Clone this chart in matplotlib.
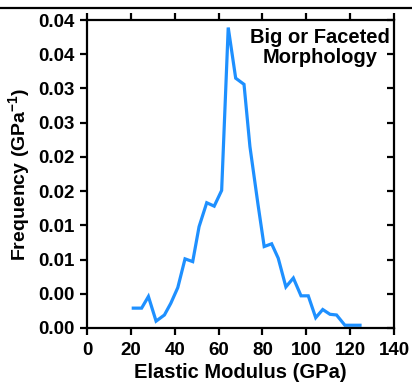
import matplotlib
matplotlib.use("Agg")
import matplotlib.pyplot as plt
from matplotlib.lines import Line2D

plt.rcParams['font.family'] = ['Liberation Sans', 'DejaVu Sans']
plt.rcParams['font.weight'] = 'bold'
plt.rcParams['mathtext.fontset'] = 'custom'
plt.rcParams['mathtext.rm'] = 'Liberation Sans:bold'
plt.rcParams['mathtext.bf'] = 'Liberation Sans:bold'

# Histogram of elastic modulus (bin centres, GPa) and frequency (1/GPa)
modulus = [21.1, 24.9, 28.0, 31.5, 35.3, 38.2, 41.4, 44.7, 48.2, 51.1,
           54.6, 58.0, 61.4, 64.4, 67.8, 71.6, 74.3, 78.0, 80.8, 84.2,
           87.2, 90.7, 94.1, 97.6, 100.9, 104.3, 107.5, 110.8, 113.8,
           117.6, 121.0, 124.5]
frequency = [0.0029, 0.0029, 0.0046, 0.0010, 0.0019, 0.0036, 0.0059, 0.0101,
             0.0097, 0.0148, 0.0183, 0.0178, 0.0201, 0.0439, 0.0365, 0.0356,
             0.0265, 0.0180, 0.0119, 0.0123, 0.0102, 0.0060, 0.0073, 0.0047,
             0.0047, 0.0015, 0.0027, 0.0020, 0.0019, 0.0004, 0.0004, 0.0004]

x_ticks = [0, 20, 40, 60, 80, 100, 120, 140]
y_ticks = [0.0, 0.005, 0.010, 0.015, 0.020, 0.025, 0.030, 0.035, 0.040, 0.045]
y_tick_labels = ['0.00', '0.00', '0.01', '0.01', '0.02', '0.02',
                 '0.03', '0.03', '0.04', '0.04']

fig = plt.figure(figsize=(4.12, 3.87), dpi=100)
ax = fig.add_axes([0.2112, 0.1525, 0.7451, 0.7958])

ax.plot(modulus, frequency, color='#1E90FF', linewidth=2.3,
        solid_joinstyle='miter')

ax.set_xlim(0, 140)
ax.set_ylim(0, 0.045)
ax.set_xticks(x_ticks)
ax.set_yticks(y_ticks)
ax.set_yticklabels(y_tick_labels)

for s in ax.spines.values():
    s.set_linewidth(1.6)

ax.tick_params(axis='both', which='major', labelsize=13.5, width=1.6,
               length=5)
ax.tick_params(axis='x', direction='out', top=True, pad=5)
ax.tick_params(axis='y', direction='out', right=True, pad=4)

# right-side ticks point inward, top ticks point outward
for t in ax.yaxis.get_major_ticks():
    t.tick2line.set_marker(matplotlib.markers.TICKLEFT)

ax.set_xlabel('Elastic Modulus (GPa)', fontsize=14.5, fontweight='bold',
              labelpad=3)
ax.set_ylabel(r'Frequency (GPa$^{-1}$)', fontsize=14, fontweight='bold',
              labelpad=4)

ax.text(106.2, 0.0439, 'Big or Faceted\nMorphology', ha='center', va='top',
        fontsize=14.5, fontweight='bold', linespacing=1.1)

fig.add_artist(Line2D([0, 1], [1 - 8 / 387, 1 - 8 / 387],
                      transform=fig.transFigure, color='black',
                      linewidth=1.6))

fig.savefig('out.png', dpi=100)
